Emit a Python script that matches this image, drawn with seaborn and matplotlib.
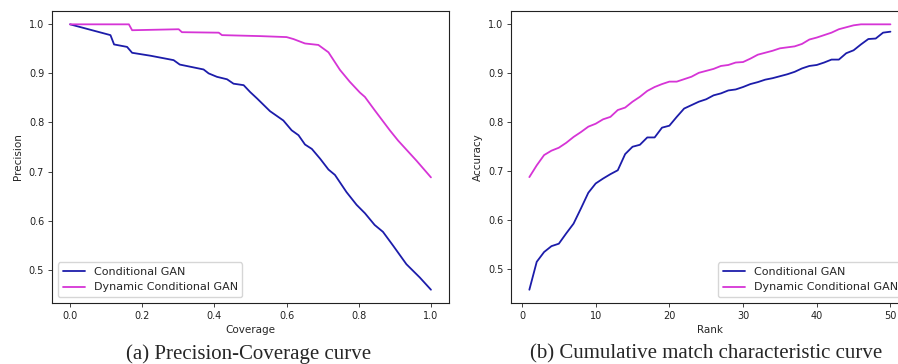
import matplotlib
matplotlib.use("Agg")
import matplotlib.pyplot as plt
import seaborn as sns

# (a) precision-coverage
coverage_cgan = [0.0, 0.112, 0.122, 0.158, 0.172, 0.223, 0.287, 0.304, 0.370, 0.384,
                 0.407, 0.435, 0.453, 0.481, 0.499, 0.518, 0.536, 0.554, 0.591, 0.614,
                 0.633, 0.651, 0.670, 0.693, 0.716, 0.734, 0.766, 0.794, 0.817, 0.844,
                 0.867, 0.895, 0.932, 0.969, 1.0]
precision_cgan = [1.0, 0.978, 0.959, 0.954, 0.942, 0.936, 0.927, 0.918, 0.908, 0.900,
                  0.893, 0.888, 0.879, 0.876, 0.862, 0.849, 0.836, 0.823, 0.804, 0.784,
                  0.774, 0.755, 0.746, 0.726, 0.704, 0.693, 0.658, 0.632, 0.615, 0.591,
                  0.577, 0.549, 0.511, 0.484, 0.459]
coverage_dcgan = [0.0, 0.163, 0.172, 0.301, 0.310, 0.412, 0.421, 0.527, 0.600, 0.619,
                  0.651, 0.688, 0.716, 0.748, 0.775, 0.803, 0.817, 0.844, 0.886, 0.909,
                  0.960, 1.0]
precision_dcgan = [1.0, 1.0, 0.988, 0.990, 0.984, 0.983, 0.978, 0.976, 0.974, 0.970,
                   0.961, 0.958, 0.943, 0.907, 0.883, 0.861, 0.852, 0.825, 0.784, 0.763,
                   0.722, 0.688]

# (b) CMC curve
ranks = list(range(1, 51))
accuracy_cgan = [0.458, 0.515, 0.535, 0.547, 0.552, 0.573, 0.593, 0.624, 0.656, 0.675,
                 0.685, 0.694, 0.702, 0.735, 0.750, 0.754, 0.769, 0.769, 0.789, 0.793,
                 0.811, 0.828, 0.835, 0.842, 0.847, 0.855, 0.859, 0.865, 0.867, 0.872,
                 0.878, 0.882, 0.887, 0.890, 0.894, 0.898, 0.903, 0.910, 0.915, 0.917,
                 0.922, 0.928, 0.928, 0.941, 0.947, 0.959, 0.970, 0.971, 0.983, 0.985]
accuracy_dcgan = [0.688, 0.712, 0.733, 0.742, 0.748, 0.758, 0.770, 0.780, 0.791, 0.797,
                  0.806, 0.811, 0.825, 0.830, 0.842, 0.852, 0.864, 0.872, 0.878, 0.883,
                  0.883, 0.888, 0.893, 0.901, 0.905, 0.909, 0.915, 0.917, 0.922, 0.923,
                  0.930, 0.938, 0.942, 0.946, 0.951, 0.953, 0.955, 0.960, 0.969, 0.973,
                  0.978, 0.983, 0.990, 0.994, 0.998, 1.0, 1.0, 1.0, 1.0, 1.0]

labels = ["Conditional GAN", "Dynamic Conditional GAN"]
colors = ["#1c1caa", "#d634d6"]

sns.set_style("white")
plt.rcParams["font.family"] = ["DejaVu Sans"]

fig = plt.figure(figsize=(8.98, 3.64), dpi=100)
ax1 = fig.add_axes([52 / 898, 0.1676, 397 / 898, 0.802])
ax2 = fig.add_axes([511.3 / 898, 0.1676, 397.2 / 898, 0.802])

sns.lineplot(x=coverage_cgan, y=precision_cgan, ax=ax1, color=colors[0], lw=1.3,
             label=labels[0], estimator=None, sort=False)
sns.lineplot(x=coverage_dcgan, y=precision_dcgan, ax=ax1, color=colors[1], lw=1.3,
             label=labels[1], estimator=None, sort=False)
sns.lineplot(x=ranks, y=accuracy_cgan, ax=ax2, color=colors[0], lw=1.3,
             label=labels[0], estimator=None, sort=False)
sns.lineplot(x=ranks, y=accuracy_dcgan, ax=ax2, color=colors[1], lw=1.3,
             label=labels[1], estimator=None, sort=False)

ax1.set_xlabel("Coverage", fontsize=7.5, labelpad=3)
ax1.set_ylabel("Precision", fontsize=7.5, labelpad=4)
ax2.set_xlabel("Rank", fontsize=7.5, labelpad=3)
ax2.set_ylabel("Accuracy", fontsize=7.5, labelpad=4)
ax1.set_xticks([0.0, 0.2, 0.4, 0.6, 0.8, 1.0])
ax2.set_xticks([0, 10, 20, 30, 40, 50])

for ax, loc in [(ax1, "lower left"), (ax2, "lower right")]:
    ax.set_yticks([0.5, 0.6, 0.7, 0.8, 0.9, 1.0])
    ax.tick_params(axis="both", which="both", direction="out", length=2.6, width=0.6,
                   labelsize=7, colors="#222222", bottom=True, left=True, pad=3)
    for spine in ax.spines.values():
        spine.set_visible(True)
        spine.set_edgecolor("#222222")
        spine.set_linewidth(0.8)
    ax.legend(loc=loc, fontsize=8, frameon=True, fancybox=True, edgecolor="#cccccc",
              framealpha=0.8, borderaxespad=0.55)

fig.text(249 / 898, 0.014, "(a) Precision-Coverage curve", ha="center", va="baseline",
         fontsize=15, family="Liberation Serif")
fig.text(706.5 / 898, 0.014, "(b) Cumulative match characteristic curve", ha="center",
         va="baseline", fontsize=15, family="Liberation Serif")

fig.savefig("out.png", dpi=100, facecolor="white")
